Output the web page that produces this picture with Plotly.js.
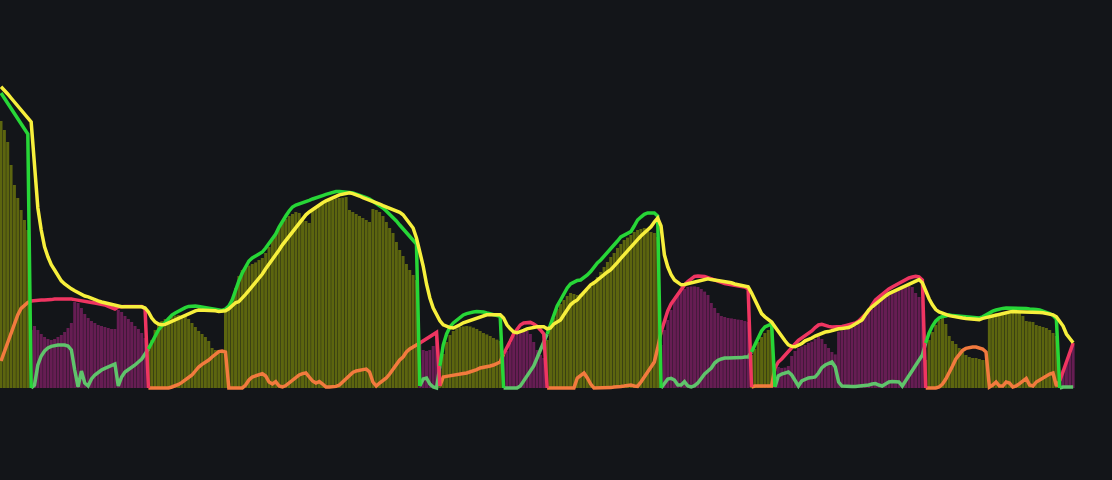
<!DOCTYPE html>
<html><head><meta charset="utf-8">
<script src="https://cdn.plot.ly/plotly-3.0.1.min.js"></script>
<style>html,body{margin:0;padding:0;background:#131519;}#chart{width:1112px;height:480px;}</style>
</head><body><div id="chart"></div>
<script>
// Trend strength line (yellow)
const adx = [
75.3,74.5,73.5,72.5,71.5,70.5,69.5,68.5,67.5,66.5,
55.8,45,39.5,35.3,32.8,30.8,29.5,28,26.8,26,
25.3,24.8,24.3,23.8,23.3,23,22.8,22.4,22,21.8,
21.5,21.3,21,20.8,20.5,20.3,20.3,20.3,20.3,20.3,
20.3,20.3,20.3,20,19,17.5,16.5,16,15.8,15.9,
16.3,16.6,17,17.5,17.9,18.3,18.6,19,19.3,19.5,
19.5,19.5,19.5,19.4,19.3,19.1,19.1,19.3,19.8,20.5,
21.3,21.6,22.4,23.4,24.4,25.4,26.4,27.4,28.5,29.8,
30.9,32.1,33.3,34.5,35.8,36.9,38.1,39.1,40.3,41.4,
42.4,43.3,44,44.6,45.3,45.8,46.3,46.8,47.1,47.5,
47.9,48.3,48.5,48.8,48.8,48.6,48.4,48,47.6,47.3,
47,46.8,46.4,46,45.6,45.3,44.9,44.5,44.3,43.9,
43.3,42.3,41.3,40,37.5,34.3,30.5,26,22.5,20,
18.3,16.8,15.8,15.4,15.1,15,15.3,15.8,16.3,16.6,
17,17.3,17.5,17.8,18,18.3,18.3,18.3,18.3,18.3,
17.5,15.8,14.8,14,13.8,14,14.4,14.8,15,15.1,
15.3,15.3,15.3,14.8,15,16,16.5,17,18.3,19.5,
20.8,21.5,22,23,24,25,25.8,26.3,27,27.8,
28.4,29,29.6,30.4,31.4,32.4,33.4,34.4,35.4,36.3,
37.1,38,38.8,39.5,40.3,41.5,42.5,40.5,33.3,30.3,
28.3,27,26.3,25.8,25.9,26.1,26.4,26.6,26.9,27,
27.1,27.3,27.1,27,26.9,26.8,26.6,26.5,26.3,26,
25.8,25.6,25.5,25.3,23.8,22,20.3,18.6,17.8,17,
16.5,15.3,14,13,11.8,10.8,10.4,10.3,10.6,11.1,
11.8,12.1,12.5,13,13.4,13.8,14,14.1,14.4,14.6,
14.8,14.9,15,15.1,15.5,16,16.4,17,18.3,19.5,
20.3,21,21.8,22.4,23,23.6,24,24.3,24.8,25.3,
25.6,26,26.4,26.8,27.1,26.3,24,22.3,20.8,19.6,
19,18.6,18.4,18.1,17.9,17.8,17.6,17.5,17.4,17.3,
17.1,17,17.1,17.4,17.6,17.9,18.1,18.4,18.6,18.8,
18.9,19,19.1,19.1,19.1,19.1,19.1,19.1,19.1,19,
18.9,18.8,18.6,18.5,18.3,17.8,16.8,15.5,13.5,12.3,
11.3];

// Bullish directional line
const plusDI = [
73.75,72.5,71.25,70,68.75,67.5,66.25,65,63.5,0,
0.75,5.75,8,9.25,10,10.4,10.6,10.75,10.75,10.75,
10.5,9.5,4.5,0.25,4.25,1.25,0.5,2.25,3.25,4,
4.5,4.9,5.25,5.6,6,0.5,2.75,4,4.5,5,
5.75,6.5,7.25,8.5,9.75,11.5,13,14.5,15.5,16.5,
17.5,18.25,18.75,19.25,19.75,20.1,20.4,20.5,20.5,20.4,
20.25,20.1,20,19.9,19.75,19.5,19.4,19.75,20.5,22,
24.5,26.75,28.75,30.5,31.75,32.5,33,33.5,34,35,
36.25,37.5,38.5,40.25,41.75,43,44.25,45.25,45.75,46,
46.25,46.5,46.9,47.25,47.6,47.9,48.1,48.4,48.6,49,
49.1,49.1,49.1,49,48.9,48.75,48.5,48.25,48,47.6,
47.25,46.75,46.25,45.6,45,44.25,43.5,42.6,41.75,40.75,
39.75,38.75,37.75,37,36,0.5,2.25,2.5,1,0.25,
0,5.5,10.75,13.5,15.25,16.25,17,17.75,18.25,18.6,
18.9,19,19.1,19.1,19,18.75,18.5,18.25,18.1,17.9,
0,0,0,0,0,0.5,1.75,3,4.25,5.5,
7.5,9.25,11.5,13.5,16,18.5,20.5,22,23.5,25,
26,26.5,26.9,27,27.5,28.25,29.1,30.25,31.25,32,
32.9,33.75,34.75,35.75,36.75,37.75,38.25,38.75,39.1,40.5,
42,42.75,43.4,43.75,43.75,43.75,43,0,1.25,2.25,
2.4,2,0.75,0.75,1.6,0.5,0.25,0.6,1.25,2.5,
3.5,4.25,5,6.25,6.9,7.25,7.5,7.5,7.5,7.5,
7.5,7.6,7.75,7.75,9,10.75,12.5,14.25,15.25,15.75,
16,0.25,3,3.5,3.75,4,3.25,1.75,0.5,1.75,
2.25,2.5,2.6,2.75,3.75,5.1,5.75,6.25,6.5,5.25,
1.5,0.5,0.4,0.4,0.4,0.4,0.5,0.5,0.5,0.75,
1,1.1,0.75,0.5,1,1.5,1.6,1.6,1.5,0.5,
1.75,3,4.25,5.5,6.75,8.25,11.25,13.75,15.5,16.75,
17.5,17.9,18,18.3,18.1,18,17.9,17.8,17.7,17.6,
17.5,17.4,17.5,17.8,18.3,18.8,19.2,19.5,19.75,19.9,
20,20,20,20,20,20,19.9,19.75,19.75,19.6,
19.5,19.25,19,18.6,18.1,17.25,0,0.25,0.25,0.25,
0.25];

// Bearish directional line
const minusDI = [
6.75,9,11.25,13.75,16.25,18.25,19.9,20.75,21.4,21.75,
21.9,22,22,22,22,22.1,22.25,22.25,22.4,22.4,
22.4,22.25,22.1,22,21.9,21.6,21.5,21.4,21.25,21.1,
21,20.75,20.4,20,19.75,20.25,20.4,20.4,20.4,20.4,
20.4,20.4,20.4,19.75,0,0,0,0,0,0,
0,0.25,0.5,0.9,1.4,2.1,2.75,3.25,4.25,5.25,
5.9,6.4,7,7.75,8.5,9.1,9.25,9,0,0,
0,0,0,0.75,2,2.75,3.1,3.4,3.6,3,
1.5,1,1.6,0.5,0.25,0.6,1.25,2,2.75,3.25,
3.6,3.75,2.75,1.75,1.25,1.6,1,0.25,0.25,0.25,
0.4,0.75,1.5,2.5,3.25,3.9,4.25,4.5,4.6,4.75,
4,1.5,0.5,1.25,1.75,2.5,3.5,4.75,6,7,
7.75,9,9.75,10.25,10.6,11.25,11.75,12.4,13,13.5,
13.9,0.5,2.75,2.9,3,3.1,3.25,3.5,3.6,3.75,
4,4.25,4.6,5,5.1,5.4,5.5,5.75,6.1,6.5,
8.5,10,11.75,13.5,14.75,15.75,16.25,16.4,16.4,16,
15.4,14.5,13.5,0,0,0,0,0,0,0,
0,0,2.5,3.25,3.75,2.5,1,0,0,0,
0,0.1,0.1,0.25,0.25,0.4,0.5,0.6,0.75,0.5,
0.4,1.5,2.75,4,5,6.5,10,14,17,19.25,
21,22.25,23.5,24.6,25.75,26.6,27.4,27.9,28,28,
27.9,27.6,27.25,27,26.6,26.4,26.1,26,25.9,25.75,
25.5,25.4,25.25,24.75,0.25,0.5,0.5,0.5,0.5,0.5,
0.5,5,6.5,7.25,8.25,9.25,10.25,11,11.9,12.5,
13,13.75,14.25,15.1,15.75,15.9,15.6,15.4,15.25,15.25,
15.25,15.4,15.6,15.75,16,16.25,16.75,17.5,18.25,19.25,
20.75,22,22.75,23.5,24.1,24.75,25.25,25.75,26.25,26.6,
27,27.5,27.75,27.9,27.75,27,0,0,0,0,
0.25,1,2.25,3.75,5.5,7.25,8.5,9.4,9.9,10.1,
10.25,10.25,10.1,9.75,9,0.25,0.75,1.5,0.5,0.5,
1.5,1.25,0.25,0.5,1.1,1.75,2.4,0.75,0.5,1.5,
2,2.6,3.1,3.5,3.75,0.5,1.75,4.25,6.5,8.75,
11.25];

// Histogram columns
const histogram = [
66.75,64.5,61.5,55.75,50.75,47.5,44.5,42,39.5,14.5,
15.5,14.5,13.5,12.75,12.25,12,12.25,12.75,13.25,14,
15,16.25,21.5,21.25,20,18.5,17.5,16.75,16.25,15.75,
15.5,15.25,15,14.75,14.75,19.5,19,18,17.25,16.5,
15.5,14.75,13.75,12.5,10.75,12,14.5,16,16.75,17.25,
17.6,17.9,18.1,18.25,18.1,18,17.25,16.25,15.25,14.25,
13.5,12.75,11.75,10,9.5,9.5,9.5,19,20.5,22.25,
25,28,29.5,30.25,30.6,31,31.4,32,32.5,33.75,
35.25,37,38.5,40,41.25,42.25,43,43.5,44,43.75,
42.5,41.75,41.25,44.75,45.4,45.75,46.1,46.5,46.9,47.1,
47.4,47.5,47.6,47.75,44.5,44,43.5,43,42.5,42,
41.5,44.75,44.5,44,43,41.5,40,38.75,36.5,34.5,
33,31,29.5,28.25,27,11.25,9.5,9.25,9.5,10.5,
12.75,4.5,8.5,11.5,13.25,14.25,14.9,15.25,15.4,15.5,
15.4,15.1,14.75,14.25,13.75,13.4,13,12.5,12.1,11.75,
8,9.25,11.25,13,14,14.4,14.5,14.25,13.5,11.5,
9.5,8.25,7.5,12,15,17.5,19.75,21,22,23,
23.75,23.5,23.25,23.5,23.75,24.5,25.25,26.75,27.75,29,
30.25,31.5,32.75,33.75,35,36,37,37.6,38.25,39,
39.5,39.75,40,39.5,39,38.75,37.75,10.75,14.5,17,
19.5,22,23.5,24.25,24.75,25.25,25.4,25.4,25.25,24.75,
24.1,23.25,21.25,20,18.75,18,17.75,17.5,17.4,17.25,
17.1,17,16.75,16.5,8.25,9.75,11.5,12.75,13.75,14.5,
15.25,4.5,5.25,5,5.1,5.5,8,9.25,10,10.4,
10.75,11.25,11.6,12.25,12.9,12.25,11,10,9,8.4,
14.1,14.4,14.5,14.75,15.1,15.5,16.1,17,17.9,18.75,
19.75,20.75,21.4,22,22.6,23.25,23.75,24.25,24.6,25,
25.25,25.5,25.25,23.75,22.75,22,7,12,14,15.75,
17,17.5,16,13,11.75,11,10,9,8.25,7.75,
7.5,7.5,7.25,7,7,18.5,18.6,18.75,18.6,18.5,
18.5,18.6,18.75,18.75,18.75,18,16.75,16.6,16.5,15.75,
15.5,15.25,15,14.5,13.75,13,2,4.5,6.5,8.75,
10.75];

// Bar indices where a bullish / bearish phase begins
const bullStarts = [0, 44, 131, 163, 224, 276];
const bearStarts = [9, 125, 150, 197, 231, 316];

const n = histogram.length;
const idx = Array.from({length: n}, (_, i) => i);
const changes = bullStarts.map(s => [s, true]).concat(bearStarts.map(s => [s, false])).sort((a, b) => a[0] - b[0]);
const bull = [];
let cur = true, k = 0;
for (let i = 0; i < n; i++) {
  while (k < changes.length && changes[k][0] <= i) { cur = changes[k][1]; k++; }
  bull.push(cur);
}

const C = {
  bg: '#131519',
  olive: '#5c650f',
  purple: '#661d53',
  yellow: '#f7ef3c',
  green: '#27d637',
  paleGreen: '#5fc46b',
  red: '#ef3561',
  orange: '#f27a3e'
};

function segmentTrace(values, wantBull, color) {
  const x = [], y = [];
  let last = -2;
  for (let i = 0; i < n - 1; i++) {
    if (bull[i] !== wantBull) continue;
    if (last !== i) {
      if (x.length) { x.push(null); y.push(null); }
      x.push(i); y.push(values[i]);
    }
    x.push(i + 1); y.push(values[i + 1]);
    last = i + 1;
  }
  return {type: 'scatter', mode: 'lines', x: x, y: y, connectgaps: false,
    line: {color: color, width: 3.5, shape: 'linear'}, hoverinfo: 'skip'};
}

const traces = [
  {type: 'bar', x: idx, y: histogram,
   marker: {color: bull.map(b => b ? C.olive : C.purple), line: {width: 0}}, hoverinfo: 'skip'},
  segmentTrace(plusDI, false, C.paleGreen),
  segmentTrace(minusDI, true, C.orange),
  segmentTrace(minusDI, false, C.red),
  segmentTrace(plusDI, true, C.green),
  {type: 'scatter', mode: 'lines', x: idx, y: adx,
   line: {color: C.yellow, width: 3.5}, hoverinfo: 'skip'}
];

const layout = {
  width: 1112, height: 480,
  margin: {l: 0, r: 0, t: 0, b: 0},
  paper_bgcolor: C.bg, plot_bgcolor: C.bg,
  showlegend: false,
  bargap: 0.1,
  xaxis: {range: [-0.3, 331.6], visible: false, showgrid: false, zeroline: false},
  yaxis: {range: [-23, 97], visible: false, showgrid: false, zeroline: false}
};

Plotly.newPlot('chart', traces, layout, {staticPlot: true, displayModeBar: false});
</script>
</body></html>
